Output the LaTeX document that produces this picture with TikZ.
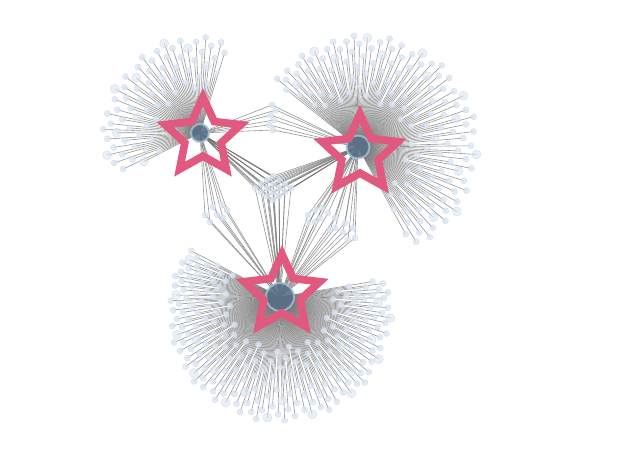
\documentclass[tikz,border=0pt]{standalone}
\usetikzlibrary{calc}
\definecolor{starpink}{RGB}{226,89,128}
\definecolor{leaffill}{RGB}{220,230,243}
\definecolor{leafline}{RGB}{200,214,233}
\definecolor{hubfill}{RGB}{88,112,136}
\definecolor{hubring}{RGB}{168,194,216}
\definecolor{edgegray}{RGB}{115,115,115}
\tikzset{
  leaf/.style={circle, fill=leaffill, draw=leafline, line width=0.4pt, inner sep=0pt, minimum size=6pt, fill opacity=0.8, draw opacity=0.8},
  bigleaf/.style={leaf, minimum size=9pt, fill opacity=0.6},
  link/.style={draw=edgegray, line width=0.6pt, draw opacity=0.75},
  hub/.style={circle, fill=hubfill, fill opacity=0.9, draw=hubring, draw opacity=0.8, line width=2pt, inner sep=0pt},
  pics/hubstar/.style={code={
    \fill[starpink,even odd rule]
      (90:49)--(126:23.5)--(162:49)--(198:23.5)--(234:49)--(270:23.5)--(306:49)--(342:23.5)--(18:49)--(54:23.5)--cycle
      (90:30.6)--(126:14.7)--(162:30.6)--(198:14.7)--(234:30.6)--(270:14.7)--(306:30.6)--(342:14.7)--(18:30.6)--(54:14.7)--cycle;
  }}
}
\begin{document}
\begin{tikzpicture}[x=1pt,y=1pt]
\useasboundingbox (0,0) rectangle (626,455);
% hub positions
\coordinate (hA) at (200,322);
\coordinate (hB) at (358,308);
\coordinate (hC) at (280,158);
% leaf positions and their links
\foreach \i in {1,...,70}{
  \pgfmathsetmacro{\ang}{72+(\i-0.5)/70*136}
  \pgfmathsetmacro{\f}{mod(\i*61.8034,100)/100}
  \pgfmathsetmacro{\rad}{42+55*\f*(1.6-0.6*\f)}
  \coordinate (a\i) at ($(hA)+(\ang:\rad)$);
  \draw[link] (hA) -- (a\i);
}
\foreach \i in {1,...,145}{
  \pgfmathsetmacro{\ang}{-62+(\i-0.5)/145*204}
  \pgfmathsetmacro{\rmax}{112+8*cos(\ang)}
  \pgfmathsetmacro{\f}{mod(\i*61.8034,100)/100}
  \pgfmathsetmacro{\rad}{48+(\rmax-48)*\f*(1.6-0.6*\f)}
  \coordinate (b\i) at ($(hB)+(\ang:\rad)$);
  \draw[link] (hB) -- (b\i);
}
\foreach \i in {1,...,215}{
  \pgfmathsetmacro{\ang}{10-(\i-0.5)/215*218}
  \pgfmathsetmacro{\rmax}{110-15*sin(\ang)}
  \pgfmathsetmacro{\f}{mod(\i*61.8034,100)/100}
  \pgfmathsetmacro{\rad}{50+(\rmax-50)*\f*(1.6-0.6*\f)}
  \coordinate (c\i) at ($(hC)+(\ang:\rad)$);
  \draw[link] (hC) -- (c\i);
}
% shared nodes
\foreach \x/\y [count=\k] in {272/350,276/345,271/340,274/335,269/330,273/325}{
  \coordinate (ab\k) at (\x,\y);
  \draw[link] (hA) -- (ab\k) -- (hB);
}
\foreach \x/\y [count=\k] in {205/240,213/248,222/250,227/245,217/240,223/237,210/233}{
  \coordinate (ac\k) at (\x,\y);
  \draw[link] (hA) -- (ac\k) -- (hC);
}
\foreach \x/\y [count=\k] in {308/240,315/245,322/247,328/242,335/237,345/232,353/227,355/217,308/232,315/233,335/227,343/223,330/225,320/237,348/215}{
  \coordinate (bc\k) at (\x,\y);
  \draw[link] (hB) -- (bc\k) -- (hC);
}
\foreach \i in {0,...,3}{
  \foreach \j in {0,...,3}{
    \coordinate (m\i\j) at ($(273,279)+(6*\i,-4*\i)+(-6*\j,-4*\j)$);
    \draw[link] (hA) -- (m\i\j) -- (hB) (m\i\j) -- (hC);
  }
}
% leaf nodes on top of the links
\foreach \i in {1,...,70}{\pgfmathparse{mod(\i,7)==0?"bigleaf":"leaf"}\node[\pgfmathresult] (na\i) at (a\i) {};}
\foreach \i in {1,...,145}{\pgfmathparse{mod(\i,7)==0?"bigleaf":"leaf"}\node[\pgfmathresult] (nb\i) at (b\i) {};}
\foreach \i in {1,...,215}{\pgfmathparse{mod(\i,7)==0?"bigleaf":"leaf"}\node[\pgfmathresult] (nc\i) at (c\i) {};}
\foreach \k in {1,...,6}{\node[leaf] (nab\k) at (ab\k) {};}
\foreach \k in {1,...,7}{\node[leaf] (nac\k) at (ac\k) {};}
\foreach \k in {1,...,15}{\node[leaf] (nbc\k) at (bc\k) {};}
\foreach \i in {0,...,3}{\foreach \j in {0,...,3}{\node[leaf] (nm\i\j) at (m\i\j) {};}}
% hubs
\node[hub,minimum size=18pt] (nA) at (hA) {};
\node[hub,minimum size=23pt] (nB) at (hB) {};
\node[hub,minimum size=28pt] (nC) at (hC) {};
% stars
\pic (sA) at (203,318) {hubstar};
\pic (sB) at (360,301) {hubstar};
\pic (sC) at (282,161) {hubstar};
\end{tikzpicture}
\end{document}
